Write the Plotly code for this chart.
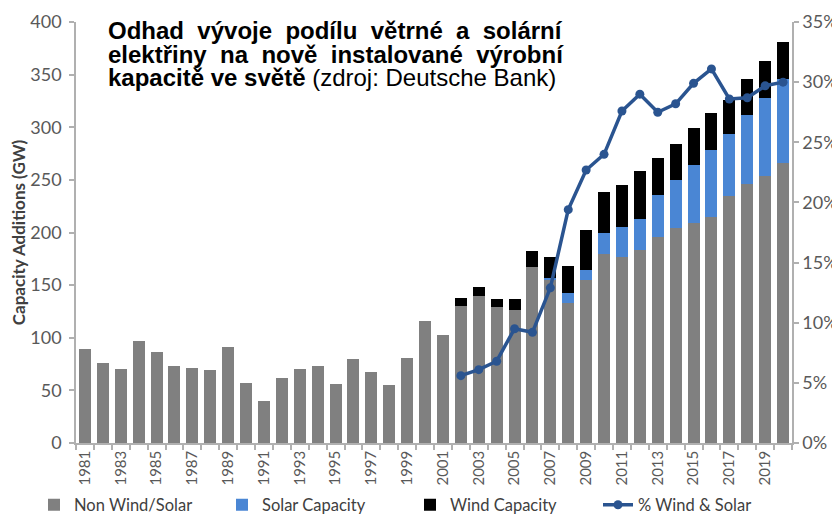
import plotly.graph_objects as go

years = list(range(1981, 2021))
non_wind_solar = [89, 76, 70, 97, 86.5, 73, 71, 69, 91, 57,
                  40, 62, 70, 73, 56, 80, 67, 55, 81, 116,
                  103, 130, 140, 129, 126, 167, 155, 133, 155, 180,
                  177, 183, 196, 204, 209, 215, 235, 246.5, 254, 266]
solar_capacity = [0] * 26 + [2, 9.5, 9.5, 19.5, 28, 30, 40, 46, 55, 63, 59, 65, 73.5, 80]
wind_capacity = [0] * 21 + [7.5, 8, 8, 11, 15, 20, 26, 38, 39, 40, 45, 35, 34, 35, 35.5, 32, 34, 35, 35]
pct_years = list(range(2002, 2021))
pct_wind_solar = [0.056, 0.061, 0.068, 0.095, 0.092, 0.129, 0.194, 0.227, 0.240, 0.276,
                  0.290, 0.275, 0.282, 0.299, 0.311, 0.286, 0.287, 0.297, 0.300]
tick_years = years[::2]
tick_labels = [str(y) for y in tick_years]

# layout geometry: the page body adds an 8px offset, so work in screen pixels minus 8
W, H = 840, 540
OFF = 8
PL, PR, PT, PB = 76 - OFF, 792 - OFF, 22 - OFF, 443 - OFF


def px(x):
    return (x - OFF - PL) / (PR - PL)


def py(y):
    return (PB - (y - OFF)) / (PB - PT)


GRAY = "#808080"
BLUE = "#4a86d4"
BLACK = "#000000"
LINE = "#2a5490"
AXIS = "#b0b0b0"
FONT = "Lato, Open Sans, sans-serif"
TICKFONT = dict(family=FONT, size=18, color="#595959")

fig = go.Figure()
fig.add_trace(go.Bar(x=years, y=non_wind_solar, name="Non Wind/Solar",
                     marker=dict(color=GRAY, line=dict(width=0))))
fig.add_trace(go.Bar(x=years, y=solar_capacity, name="Solar Capacity",
                     marker=dict(color=BLUE, line=dict(width=0))))
fig.add_trace(go.Bar(x=years, y=wind_capacity, name="Wind Capacity",
                     marker=dict(color=BLACK, line=dict(width=0))))
fig.add_trace(go.Scatter(x=pct_years, y=pct_wind_solar, name="% Wind & Solar",
                         mode="lines+markers", yaxis="y2",
                         line=dict(color=LINE, width=3.5),
                         marker=dict(color=LINE, size=9)))

fig.update_layout(
    width=W, height=H,
    template="none",
    paper_bgcolor="white", plot_bgcolor="white",
    barmode="stack", bargap=0.33,
    margin=dict(l=PL, r=W - PR, t=PT, b=H - PB),
    showlegend=True,
    legend=dict(orientation="h", traceorder="normal", x=px(34), xanchor="left",
                y=py(505), yanchor="middle",
                entrywidth=143, entrywidthmode="pixels",
                font=dict(family=FONT, size=16.5, color="#404040"),
                bgcolor="rgba(0,0,0,0)", tracegroupgap=0),
    xaxis=dict(range=[1980.5, 2020.5], tickmode="array", tickvals=tick_years, ticktext=tick_labels,
               tickangle=-90, ticks="", showgrid=False, zeroline=False,
               showline=True, linecolor=AXIS, linewidth=1.5,
               tickfont=dict(family=FONT, size=15, color="#595959"),
               minor=dict(tickmode="linear", tick0=1980.5, dtick=1, ticks="outside",
                          ticklen=5, tickcolor=AXIS, tickwidth=1.5, showgrid=False),
               automargin=False),
    yaxis=dict(range=[0, 400], dtick=50, tick0=0, showgrid=False, zeroline=False,
               showline=True, linecolor=AXIS, linewidth=1.5,
               ticks="outside", ticklen=5, tickcolor=AXIS, tickwidth=1.5,
               ticklabelstandoff=4,
               tickfont=TICKFONT,
               title=dict(text="<b>Capacity Additions (GW)</b>", standoff=6,
                          font=dict(family=FONT, size=17, color="#404040")),
               automargin=False),
    yaxis2=dict(range=[0, 0.35], dtick=0.05, tick0=0, tickformat=".0%", overlaying="y", side="right",
                showgrid=False, zeroline=False, showline=True, linecolor=AXIS, linewidth=1.5,
                ticks="outside", ticklen=5, tickcolor=AXIS, tickwidth=1.5,
                tickfont=TICKFONT, automargin=False),
)

# justified title (double spaces widen the word gaps of the first two lines)
TF = dict(family="Arial, Liberation Sans, sans-serif", size=24, color="#000000")
title_lines = [
    ("<b>Odhad  vývoje  podílu  větrné  a  solární</b>", 31),
    ("<b>elektřiny  na  nově  instalované  výrobní</b>", 54),
    ("<b>kapacitě ve světě</b> (zdroj: Deutsche Bank)", 77),
]
for txt, yc in title_lines:
    fig.add_annotation(text=txt, x=px(107), y=py(yc), xref="paper", yref="paper",
                       xanchor="left", yanchor="middle", align="left",
                       showarrow=False, font=TF, borderpad=0)

fig.write_html("out.html")
